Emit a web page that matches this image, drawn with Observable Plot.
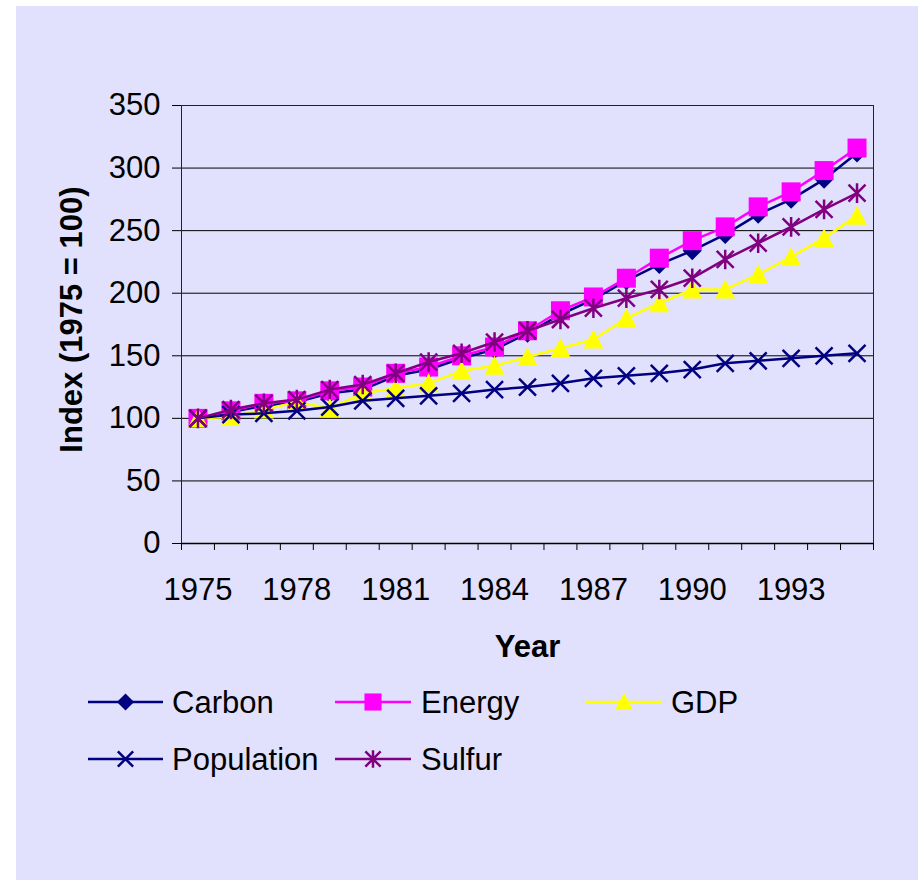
<!DOCTYPE html>
<html><head><meta charset="utf-8">
<script src="https://cdn.jsdelivr.net/npm/d3@7"></script>
<script src="https://cdn.jsdelivr.net/npm/@observablehq/plot@0.6"></script>
<style>
body{margin:0;background:#fff;font-family:"Liberation Sans",Arial,sans-serif;}
#page{position:relative;width:918px;height:880px;overflow:hidden;background:#fff}
#panel{position:absolute;left:16px;top:6px;width:902px;height:874px;background:#e1e1fd}
#chart{position:absolute;left:16px;top:6px}
#legend{position:absolute;left:0;top:660px}
</style></head><body>
<div id="page"><div id="panel"></div><div id="chart"></div><svg id="legend" width="918" height="140"></svg></div>
<script>
// ---- data ----
const years = [1975,1976,1977,1978,1979,1980,1981,1982,1983,1984,1985,1986,1987,1988,1989,1990,1991,1992,1993,1994,1995];
const carbon     = [100,105,110,113,120,123,134,139,148,155,168,183,195,210,223,234,247,263,275,291,312];
const energy     = [100,106,112,114,122,125,136,141,150,157,170,186,197,212,228,242,253,269,281,298,316];
const gdp        = [100,101,107,113,108,120,124,128,138,142,149,156,163,180,192,203,203,215,229,244,262];
const population = [100,103,104,106,109,114,116,118,120,123,125,128,132,134,136,139,144,146,148,150,152];
const sulfur     = [100,107,112,115,123,127,136,145,152,161,170,179,188,196,203,212,227,240,253,267,280];
const seriesNames = ["Carbon","Energy","GDP","Population","Sulfur"];
const yTicks = [0,50,100,150,200,250,300,350];
const xLabelYears = [1975,1978,1981,1984,1987,1990,1993];
const yTitle = "Index (1975 = 100)";
const xTitle = "Year";

// ---- symbols (half-size = r) ----
const R = s => Math.sqrt(s / Math.PI);
const symSquare = {draw(c, s){const r=R(s); c.rect(-r,-r,2*r,2*r);}};
const symDiamond = {draw(c, s){const r=R(s); c.moveTo(0,-r); c.lineTo(r,0); c.lineTo(0,r); c.lineTo(-r,0); c.closePath();}};
const symTriangle = {draw(c, s){const r=R(s); c.moveTo(0,-r); c.lineTo(r,r*0.9); c.lineTo(-r,r*0.9); c.closePath();}};
const symTimes = {draw(c, s){const r=R(s); c.moveTo(-r,-r); c.lineTo(r,r); c.moveTo(-r,r); c.lineTo(r,-r);}};
const symAsterisk = {draw(c, s){const r=R(s); c.moveTo(-r,-r); c.lineTo(r,r); c.moveTo(-r,r); c.lineTo(r,-r); c.moveTo(0,-r*1.15); c.lineTo(0,r*1.15);}};

const styles = {
  Carbon:     {color:"#000080", symbol:symDiamond, r:9.5, filled:true},
  Energy:     {color:"#ff00ff", symbol:symSquare, r:9.5, filled:true},
  GDP:        {color:"#ffff00", symbol:symTriangle, r:10, filled:true},
  Population: {color:"#000080", symbol:symTimes, r:8.5, filled:false},
  Sulfur:     {color:"#800080", symbol:symAsterisk, r:8.5, filled:false}
};
const values = {Carbon:carbon, Energy:energy, GDP:gdp, Population:population, Sulfur:sulfur};
const table = seriesNames.map(name => years.map((year,i) => ({name, year, value: values[name][i]})));
const xBounds = years.map(y => y - 0.5).concat([years[years.length-1] + 0.5]);

const seriesMarks = [];
table.forEach(rows => {
  const st = styles[rows[0].name];
  seriesMarks.push(Plot.line(rows, {x:"year", y:"value", stroke:st.color, strokeWidth:2.5}));
  seriesMarks.push(Plot.dot(rows, {x:"year", y:"value", symbol:st.symbol, r:st.r,
    fill: st.filled ? st.color : "none", stroke: st.filled ? "none" : st.color, strokeWidth: st.filled ? 0 : 2.5}));
});

const chart = Plot.plot({
  width: 902, height: 690,
  marginTop: 99, marginLeft: 165, marginRight: 45, marginBottom: 153,
  style: {background:"transparent", fontFamily:"'Liberation Sans', Arial, sans-serif", fontSize:"31px", color:"#000", overflow:"visible"},
  x: {type:"linear", domain:[xBounds[0], xBounds[xBounds.length-1]]},
  y: {domain:[0,350]},
  marks: [
    Plot.gridY(yTicks.filter(d => d > 0), {stroke:"#000", strokeOpacity:1, strokeWidth:1}),
    Plot.frame({stroke:"#222", strokeWidth:1}),
    Plot.axisY(yTicks, {tickSize:9, tickPadding:12, fontSize:31, label:null, tickFormat:d => String(d)}),
    Plot.axisX(xBounds, {tickSize:7, tickFormat:() => "", label:null}),
    Plot.axisX(xLabelYears, {tickSize:0, tickPadding:34, fontSize:31, label:null, tickFormat:d => String(d)}),
    Plot.ruleY([0], {stroke:"#000", strokeWidth:1.5}),
    ...seriesMarks,
    Plot.text([yTitle], {text:d => d, frameAnchor:"left", textAnchor:"middle", lineAnchor:"middle", dx:-109, dy:-5, rotate:-90, fontSize:31, fontWeight:"bold", fill:"#000"}),
    Plot.text([xTitle], {text:d => d, frameAnchor:"bottom", textAnchor:"middle", lineAnchor:"middle", dy:104, fontSize:31, fontWeight:"bold", fill:"#000"})
  ]
});
document.getElementById("chart").appendChild(chart);

// ---- legend ----
const legendItems = [
  {name:"Carbon", col:0, row:0}, {name:"Energy", col:1, row:0}, {name:"GDP", col:2, row:0},
  {name:"Population", col:0, row:1}, {name:"Sulfur", col:1, row:1}
];
const cols = [{x0:88, x1:163, tx:172}, {x0:335, x1:411, tx:421}, {x0:586, x1:662, tx:671}];
const rowsY = [42, 99];
const lg = d3.select("#legend");
legendItems.forEach(it => {
  const st = styles[it.name], c = cols[it.col], y = rowsY[it.row];
  const g = lg.append("g");
  g.append("line").attr("x1", c.x0).attr("x2", c.x1).attr("y1", y).attr("y2", y)
    .attr("stroke", st.color).attr("stroke-width", 2.5);
  const p = d3.path();
  const rr = st.r * 0.9;
  st.symbol.draw(p, rr * rr * Math.PI);
  g.append("path").attr("d", p.toString()).attr("transform", `translate(${(c.x0+c.x1)/2},${y})`)
    .attr("fill", st.filled ? st.color : "none").attr("stroke", st.filled ? "none" : st.color).attr("stroke-width", 2.5);
  g.append("text").attr("x", c.tx).attr("y", y).attr("dy", "0.36em").text(it.name)
    .attr("font-size", 31).attr("font-family", "'Liberation Sans', Arial, sans-serif").attr("fill", "#000");
});
</script>
</body></html>
